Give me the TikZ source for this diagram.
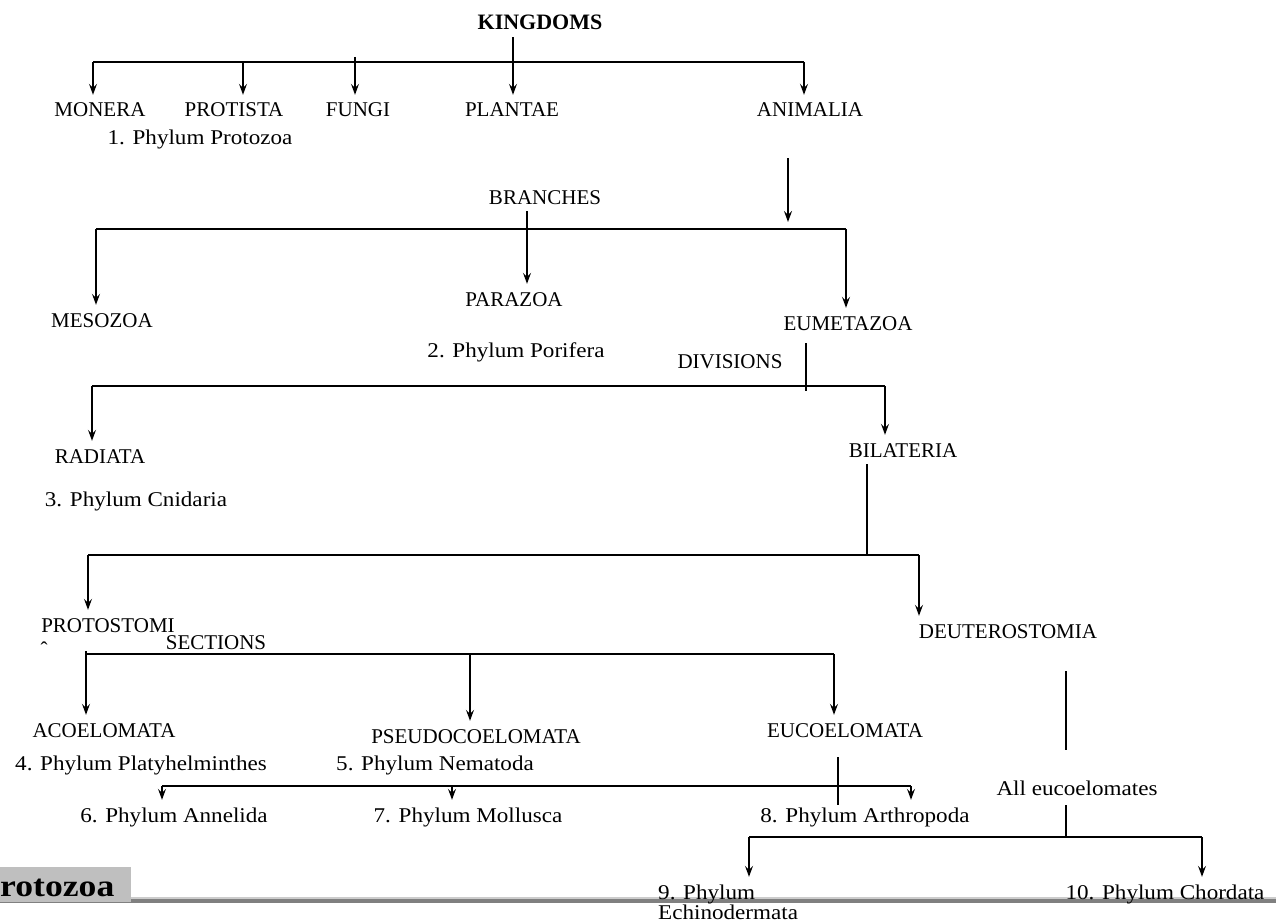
\documentclass[tikz,border=0pt]{standalone}
\usepackage{fontspec}
\setmainfont{Liberation Serif}
\newfontfamily\phylfont[FakeStretch=1.1]{Liberation Serif}
\newfontfamily\headfont[FakeStretch=1.15]{Liberation Serif}
\usetikzlibrary{arrows.meta}

\begin{document}
\begin{tikzpicture}[x=1pt, y=-1pt,
    taxon/.style={font=\fontsize{21}{25}\selectfont, anchor=base,
        inner sep=2pt, text height=20pt, text depth=5pt},
    head/.style={taxon, font=\bfseries\fontsize{22}{26}\selectfont},
    phylum/.style={taxon, font=\phylfont\fontsize{21}{25}\selectfont},
    link/.style={line width=1.3pt},
    arr/.style={link, -{Stealth[length=11pt, width=8pt, inset=4pt]}}
]
    \useasboundingbox (0,0) rectangle (1276,923);

    % kingdoms
    \node[head] (kingdoms) at (540,30) {KINGDOMS};
    \node[taxon] (monera) at (100,117) {MONERA};
    \node[taxon] (protista) at (234,117) {PROTISTA};
    \node[taxon] (fungi) at (358,117) {FUNGI};
    \node[taxon] (plantae) at (512,117) {PLANTAE};
    \node[taxon] (animalia) at (810,117) {ANIMALIA};
    \node[phylum] (protozoa) at (200,144) {1. Phylum Protozoa};

    % branches
    \node[taxon] (branches) at (545,204) {BRANCHES};
    \node[taxon] (mesozoa) at (102,327) {MESOZOA};
    \node[taxon] (parazoa) at (514,306) {PARAZOA};
    \node[taxon] (eumetazoa) at (848,330) {EUMETAZOA};
    \node[phylum] (porifera) at (516,357) {2. Phylum Porifera};

    % divisions
    \node[taxon] (divisions) at (730,368) {DIVISIONS};
    \node[taxon] (radiata) at (100,463) {RADIATA};
    \node[taxon] (bilateria) at (903,457) {BILATERIA};
    \node[phylum] (cnidaria) at (136,506) {3. Phylum Cnidaria};

    \node[taxon] (protostomia) at (108,632) {PROTOSTOMI};
    \node[taxon] (caret) at (44,656) {ˆ};
    \node[taxon] (deuterostomia) at (1008,638) {DEUTEROSTOMIA};

    % sections
    \node[taxon] (sections) at (216,649) {SECTIONS};
    \node[taxon] (acoelomata) at (104,737) {ACOELOMATA};
    \node[taxon] (pseudo) at (476,743) {PSEUDOCOELOMATA};
    \node[taxon] (eucoelomata) at (845,737) {EUCOELOMATA};
    \node[phylum] (platy) at (141,770) {4. Phylum Platyhelminthes};
    \node[phylum] (nematoda) at (435,770) {5. Phylum Nematoda};

    \node[phylum] (annelida) at (174,822) {6. Phylum Annelida};
    \node[phylum] (mollusca) at (468,822) {7. Phylum Mollusca};
    \node[phylum] (arthropoda) at (865,822) {8. Phylum Arthropoda};
    \node[phylum] (alleuco) at (1077,795) {All eucoelomates};

    % bottom rule
    \fill[black!20] (0,897) rectangle (1276,899);
    \fill[black!50] (0,899) rectangle (1276,903);
    \fill[black!25] (0,867) rectangle (131,902);
    \node[anchor=base west, inner sep=0pt,
        font=\headfont\bfseries\fontsize{31}{35}\selectfont] (tab) at (0,896) {rotozoa};

    \node[phylum, anchor=base west] (echino) at (656,899) {9. Phylum};
    \node[phylum, anchor=base west] (echinob) at (656,919) {Echinodermata};
    \node[phylum] (chordata) at (1165,899) {10. Phylum Chordata};

    % kingdom level
    \coordinate (kmon) at (93,62);
    \coordinate (kpro) at (243,62);
    \coordinate (kfun) at (355,57);
    \coordinate (kpla) at (513,62);
    \coordinate (kani) at (804,62);
    \draw[link] (kmon) -- (kani);
    \draw[arr] (kmon) -- (kmon |- monera.north);
    \draw[arr] (kpro) -- (kpro |- protista.north);
    \draw[arr] (kfun) -- (kfun |- fungi.north);
    \draw[arr] (kingdoms.south -| kpla) -- (kpla |- plantae.north);
    \draw[arr] (kani) -- (kani |- animalia.north);

    % branch level
    \coordinate (anitop) at (788,158);
    \coordinate (anitip) at (788,222);
    \draw[arr] (anitop) -- (anitip);
    \coordinate (bmes) at (96,229);
    \coordinate (bpar) at (527,229);
    \coordinate (beum) at (846,229);
    \draw[link] (bmes) -- (beum);
    \draw[arr] (bmes) -- (bmes |- mesozoa.north);
    \draw[arr] (branches.south -| bpar) -- (bpar |- parazoa.north);
    \draw[arr] (beum) -- (beum |- eumetazoa.north);

    % division level
    \coordinate (eumtop) at (806,343);
    \coordinate (eumbot) at (806,391);
    \draw[link] (eumtop) -- (eumbot);
    \coordinate (drad) at (92,386);
    \coordinate (dbil) at (885,386);
    \draw[link] (drad) -- (dbil);
    \draw[arr] (drad) -- (drad |- radiata.north);
    \draw[arr] (dbil) -- (dbil |- bilateria.north);

    \coordinate (biltop) at (867,464);
    \coordinate (bilbot) at (867,555);
    \draw[link] (biltop) -- (bilbot);
    \coordinate (ppro) at (88,555);
    \coordinate (pdeu) at (919,555);
    \draw[link] (ppro) -- (pdeu);
    \draw[arr] (ppro) -- (ppro |- protostomia.north);
    \draw[arr] (pdeu) -- (pdeu |- deuterostomia.north);

    % section level
    \coordinate (protop) at (86,651);
    \coordinate (sace) at (86,654);
    \coordinate (spse) at (470,654);
    \coordinate (seuc) at (834,654);
    \draw[link] (sace) -- (seuc);
    \draw[arr] (protop) -- (protop |- acoelomata.north);
    \draw[arr] (spse) -- (spse |- pseudo.north);
    \draw[arr] (seuc) -- (seuc |- eucoelomata.north);

    \coordinate (euctop) at (838,757);
    \coordinate (eucbot) at (838,805);
    \draw[link] (euctop) -- (eucbot);
    \coordinate (eann) at (162,786);
    \coordinate (emol) at (452,786);
    \coordinate (eart) at (911,786);
    \draw[link] (eann) -- (eart);
    \draw[arr] (eann) -- (eann |- annelida.north);
    \draw[arr] (emol) -- (emol |- mollusca.north);
    \draw[arr] (eart) -- (eart |- arthropoda.north);

    % deuterostomes
    \coordinate (deutop) at (1066,671);
    \coordinate (deubot) at (1066,750);
    \draw[link] (deutop) -- (deubot);
    \coordinate (alltop) at (1066,805);
    \coordinate (allbot) at (1066,837);
    \draw[link] (alltop) -- (allbot);
    \coordinate (cech) at (749,837);
    \coordinate (ccho) at (1202,837);
    \draw[link] (cech) -- (ccho);
    \draw[arr] (cech) -- (cech |- echino.north);
    \draw[arr] (ccho) -- (ccho |- chordata.north);
\end{tikzpicture}
\end{document}
